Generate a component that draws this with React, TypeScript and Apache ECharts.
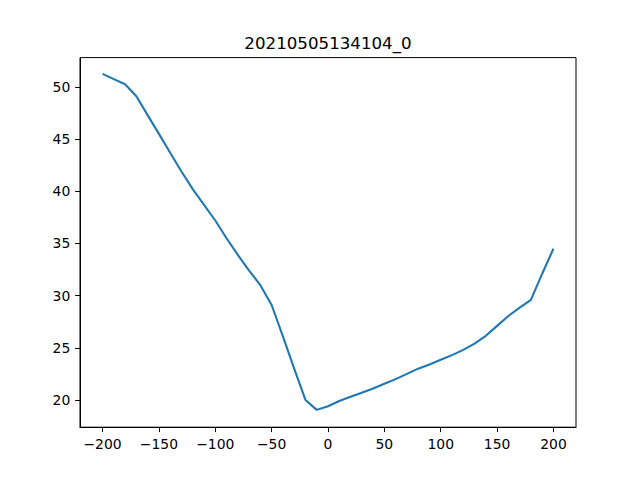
import React, { useEffect, useRef } from "react";
import * as echarts from "echarts";

const xValues = [-200, -190, -180, -170, -160, -150, -140, -130, -120, -110, -100, -90, -80, -70, -60, -50, -40, -30, -20, -10, 0, 10, 20, 30, 40, 50, 60, 70, 80, 90, 100, 110, 120, 130, 140, 150, 160, 170, 180, 190, 200];
const yValues = [51.25, 50.75, 50.25, 49.1, 47.3, 45.5, 43.7, 41.9, 40.2, 38.7, 37.2, 35.5, 33.9, 32.4, 31.0, 29.1, 26.1, 23.0, 20.0, 19.05, 19.4, 19.9, 20.3, 20.7, 21.1, 21.55, 22.0, 22.5, 23.0, 23.4, 23.85, 24.3, 24.8, 25.4, 26.15, 27.1, 28.05, 28.85, 29.6, 32.1, 34.5];
const xTicks = [-200, -150, -100, -50, 0, 50, 100, 150, 200];
const yTicks = [20, 25, 30, 35, 40, 45, 50];
const title = "20210505134104_0";

export default function App() {
  const ref = useRef<HTMLDivElement>(null);
  useEffect(() => {
    if (!ref.current) return;
    const chart = echarts.init(ref.current, undefined, { renderer: "svg" });
    const font = "DejaVu Sans";
    chart.setOption({
      animation: false,
      backgroundColor: "#ffffff",
      textStyle: { fontFamily: font },
      graphic: [
        {
          type: "text",
          x: 328,
          y: 43.5,
          style: {
            text: title,
            font: `16.67px "${font}"`,
            fill: "#000",
            textAlign: "center",
            textVerticalAlign: "middle",
          },
        },
      ],
      grid: {
        left: 80,
        right: 64,
        top: 57.6,
        bottom: 52.8,
        show: true,
        borderColor: "#000",
        borderWidth: 1,
        backgroundColor: "transparent",
      },
      xAxis: {
        type: "value",
        min: -220,
        max: 220,
        splitLine: { show: false },
        axisLine: { show: true, onZero: false, lineStyle: { color: "#000", width: 1 } },
        axisTick: { show: true, length: 4.9, lineStyle: { color: "#000", width: 1 }, customValues: xTicks },
        axisLabel: {
          show: true,
          margin: 9.7,
          color: "#000",
          fontSize: 13.9,
          fontFamily: font,
          customValues: xTicks,
          formatter: (v: number) => (v < 0 ? "\u2212" + Math.abs(v) : String(v)),
        },
      },
      yAxis: {
        type: "value",
        min: 17.39,
        max: 52.81,
        splitLine: { show: false },
        axisLine: { show: true, onZero: false, lineStyle: { color: "#000", width: 1 } },
        axisTick: { show: true, length: 4.9, lineStyle: { color: "#000", width: 1 }, customValues: yTicks },
        axisLabel: {
          show: true,
          margin: 9.7,
          color: "#000",
          fontSize: 13.9,
          fontFamily: font,
          customValues: yTicks,
        },
      },
      series: [
        {
          type: "line",
          data: xValues.map((x, i) => [x, yValues[i]]),
          showSymbol: false,
          symbol: "none",
          lineStyle: { color: "#1f77b4", width: 2.08 },
          itemStyle: { color: "#1f77b4" },
        },
      ],
    });
    return () => chart.dispose();
  }, []);
  return (
    <div
      ref={ref}
      style={{ position: "fixed", left: 0, top: 0, width: 640, height: 480 }}
    />
  );
}
